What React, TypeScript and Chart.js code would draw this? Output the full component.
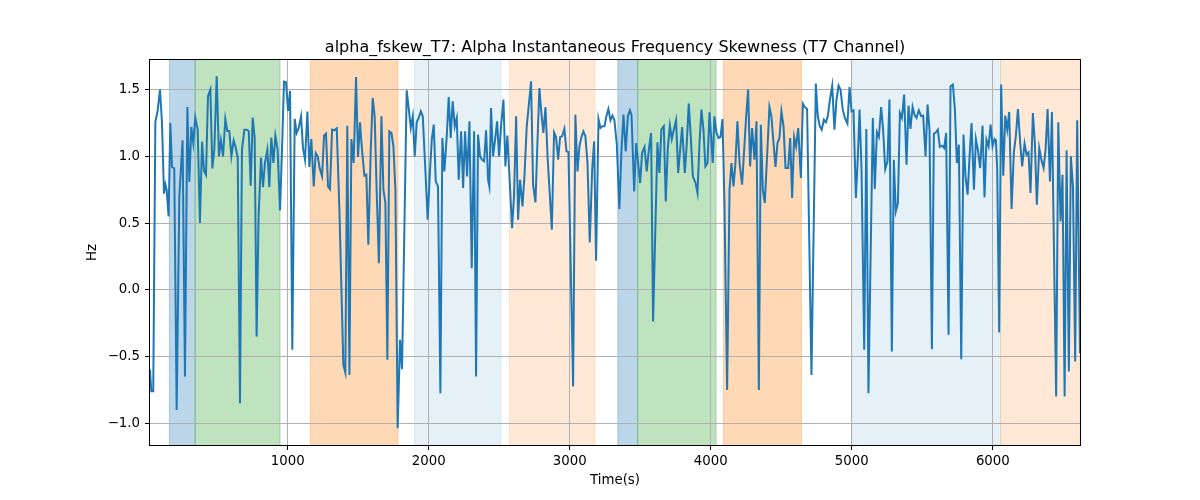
import React, { useEffect, useRef } from "react";
import { Chart, registerables } from "chart.js";

Chart.register(...registerables);

const TITLE = "alpha_fskew_T7: Alpha Instantaneous Frequency Skewness (T7 Channel)";
const X_LABEL = "Time(s)";
const Y_LABEL = "Hz";

const times: number[] = [
  24, 33, 47, 62, 78, 95, 109, 123, 133, 142, 156, 168, 180, 196, 213, 232, 255, 272, 289, 303,
  317, 331, 345, 362, 378, 393, 407, 421, 435, 452, 466, 480, 497, 513, 527, 542, 558, 572, 586, 601,
  617, 631, 646, 662, 676, 693, 709, 724, 738, 752, 766, 780, 794, 811, 825, 839, 856, 870,
  884, 899, 913, 929, 946, 960, 974, 988, 1003, 1017, 1033, 1050, 1064, 1078, 1095, 1109, 1123, 1140,
  1154, 1168, 1185, 1199, 1213, 1227, 1244, 1258, 1272, 1286, 1300, 1315, 1331, 1348, 1367, 1395, 1409,
  1423, 1438, 1452, 1468, 1485, 1499, 1513, 1527, 1544, 1558, 1572, 1589, 1603, 1617, 1631, 1647,
  1665, 1679, 1693, 1707, 1721, 1736, 1750, 1764, 1780, 1797, 1811, 1844, 1858, 1873, 1887, 1901, 1915,
  1929, 1944, 1958, 1974, 1993, 2007, 2022, 2036, 2050, 2066, 2083, 2097, 2111, 2128, 2142, 2156, 2170,
  2185, 2199, 2213, 2230, 2244, 2258, 2272, 2289, 2305, 2322, 2336, 2350, 2364, 2378, 2393, 2407, 2421,
  2430, 2442, 2456, 2471, 2485, 2499, 2513, 2530, 2544, 2558,
  2575, 2591, 2605, 2620, 2634, 2648, 2665, 2679, 2695, 2709, 2726, 2740, 2757, 2771, 2785, 2799, 2813,
  2828, 2844, 2858, 2873, 2889, 2903, 2918, 2932, 2946, 2962, 2977, 2991, 3024, 3040, 3055, 3069, 3083,
  3097, 3111, 3126, 3142, 3159, 3173, 3187, 3204, 3218, 3232, 3246, 3260, 3274, 3289, 3303, 3317, 3334,
  3352, 3367, 3381, 3397, 3412,
  3427, 3438, 3457, 3471, 3485, 3499, 3513, 3530, 3546, 3561, 3577, 3591, 3622, 3636, 3650, 3667, 3681,
  3695, 3710, 3724, 3738, 3754, 3769, 3783, 3797, 3816, 3830, 3844, 3858, 3873, 3892, 3906, 3920, 3934,
  3948, 3962, 3977, 3991, 4005, 4014, 4026, 4040, 4055, 4069, 4083, 4097, 4116, 4133, 4147, 4161, 4175,
  4189, 4204, 4222, 4237, 4251, 4265,
  4279, 4293, 4310, 4324, 4341, 4355, 4369, 4383, 4397, 4416, 4430, 4445, 4459, 4473, 4487, 4501, 4516,
  4530, 4549, 4563, 4577, 4591, 4605, 4620, 4639, 4653, 4667, 4683, 4714, 4745, 4759, 4773, 4787, 4802,
  4816, 4830, 4844, 4861, 4877, 4891, 4906, 4920, 4936, 4951, 4969, 4984, 4998, 5012, 5029, 5043, 5055,
  5069, 5088, 5103, 5118,
  5149, 5163, 5178, 5192, 5208, 5222, 5237, 5253, 5267, 5284, 5298, 5312, 5327, 5341, 5355, 5371, 5388,
  5402, 5416, 5431, 5445, 5459, 5475, 5492, 5506, 5523, 5537, 5551, 5568, 5582, 5596, 5610, 5624, 5641,
  5655, 5669, 5686, 5700, 5717, 5731, 5745, 5759, 5776, 5792, 5806, 5821, 5835, 5849, 5866, 5880, 5894,
  5910, 5927, 5941, 5955, 5970,
  5984, 5998, 6012, 6022, 6031, 6045, 6059, 6074, 6088, 6102, 6116, 6133, 6149, 6163, 6178, 6194, 6208,
  6225, 6239, 6253, 6267, 6284, 6298, 6312, 6329, 6343, 6360, 6374, 6388, 6405, 6419, 6449, 6464, 6480,
  6494, 6509, 6523, 6539, 6553, 6568, 6584, 6598, 6618,
];

const skew: number[] = [
  -0.6, -0.76, -0.76, 1.26, 1.34, 1.5, 1.25, 0.72, 0.79, 0.75, 0.55, 1.25, 0.92, 0.91, -0.9, 0.7, 1.12, -0.65, 1.37, 0.81,
  1.22, 1.1, 1.29, 1.2, 0.5, 1.11, 0.89, 0.86, 1.45, 1.5, 0.91, 1.05, 1.6, 1.0, 1.12, 1.0, 1.28, 1.19, 1.19, 1.0,
  1.12, 1.07, 0.99, -0.85, 1.05, 1.2, 1.2, 1.19, 0.78, 1.29, 1.14, -0.35, 0.55, 0.99, 0.77, 0.95, 1.05, 0.77,
  1.14, 0.95, 1.155, 1.05, 0.595, 1.05, 1.56, 1.555, 1.34, 1.49, -0.45, 1.28, 1.175, 1.21, 1.3, 1.06, 0.975, 1.335,
  0.92, 1.13, 0.775, 1.025, 1.0, 0.91, 0.85, 1.155, 1.17, 0.775, 0.755, 1.2, 1.195, 1.21, 0.6, -0.5625, -0.62,
  1.23, -0.6375, 1.13, 0.95, 1.595, 0.995, 1.255, 1.05, 0.855, 0.8625, 0.3375, 1.0375, 1.4375, 1.3, 0.75, 0.2,
  1.3, 0.75, 0.65, -0.525, 1.1875, 1.175, 1.075, 0.75, -1.0375, -0.375, -0.595, 1.495, 1.3625, 1.2125, 1.3, 1.0, 1.255,
  1.2875, 1.3375, 1.3, 0.95, 0.525, 0.85, 1.125, 1.2375, 0.8125, 0.775, -0.775, 1.1375, 0.8875, 1.15, 1.445, 1.1375, 1.4125,
  1.225, 1.2875, 0.825, 1.1875, 0.7625, 1.1875, 0.85, 1.2625, 0.1625, 1.1875, -0.65, 1.1625, 1.0, 0.975, 0.9625, 1.195, 0.825,
  0.775, 1.3625, 1.0, 1.125, 1.2625, 1.0, 1.225, 1.425, 0.925, 1.155,
  0.8, 0.4625, 0.7, 1.3, 0.525, 0.825, 0.625, 0.85, 1.225, 1.375, 1.5625, 0.7875, 0.655, 1.1, 1.5125, 1.325, 1.175,
  1.37, 0.975, 0.725, 0.45, 1.18, 1.145, 0.975, 1.145, 1.15, 1.2075, 1.0375, 1.0325, -0.725, 1.3125, 0.8875, 1.075, 1.145,
  1.1875, 1.15, 0.95, 0.355, 0.9, 1.1125, 0.2175, 1.28, 1.2125, 1.225, 1.225, 1.3, 1.355, 1.27, 1.305, 1.27, 1.0875,
  0.605, 1.05, 1.3125, 1.0375, 1.3,
  1.345, 1.31, 0.7375, 1.1, 0.95, 0.8, 1.025, 1.07, 0.8875, 1.05, 1.175, -0.2375, 1.105, 0.875, 1.2, 1.225, 0.6625,
  1.05, 1.23, 1.13, 1.2, 1.27, 0.875, 1.05, 1.22, 0.875, 1.1, 1.395, 1.15, 0.85, 0.8, 0.725, 1.1, 1.35,
  1.2, 0.925, 0.95, 1.33, 1.1, 0.95, 1.3, 1.18, 1.1375, 1.145, 1.28, 0.65, -0.75, 0.75, 0.95, 0.775, 0.95,
  1.2625, 0.95, 0.7875, 1.05, 1.3, 1.5,
  0.925, 1.2125, 0.975, 1.2625, -0.75, 1.2375, 0.75, 0.65, 0.95, 1.37, 1.3, 1.1, 0.92, 1.1, 1.1375, 1.3375, 1.225,
  0.9125, 0.9125, 1.1375, 0.6875, 1.145, 1.075, 1.2125, 0.8375, 1.395, 1.37, 1.355, -0.6375, 1.545, 1.3, 1.225, 1.2, 1.275,
  1.255, 1.3, 1.42, 1.53, 1.2, 1.42, 1.53, 1.5, 1.35, 1.2875, 1.245, 1.52, 1.3375, 1.345, 0.6875, 1.0, 1.35,
  0.9, -0.45, 1.205, -0.775,
  1.2875, 0.755, 1.18, 1.145, 1.37, 1.2, 0.905, 0.9625, 1.425, -0.4625, 0.975, 0.5875, 0.65, 1.325, 1.2875, 1.4625, 0.9375,
  1.38, 1.205, 1.37, 1.31, 1.2875, 1.345, 1.3, 1.305, 1.0, 1.3875, 1.2, -0.445, 1.17, 1.18, 1.2, 1.07, 1.08,
  1.0625, 1.175, -0.3375, 1.525, 1.5375, 1.35, 0.95, 1.0875, -0.52, 1.1625, 0.85, 0.7125, 1.0, 1.25, 0.75, 1.13, 1.05,
  0.9125, 1.23, 0.6925, 1.125, 1.075,
  1.2375, 1.075, 1.13, 1.12, 0.9, -0.32, 1.5375, 0.855, 1.305, 1.2, 1.3325, 0.605, 1.03, 1.15, 1.355, 1.1, 0.925,
  1.095, 1.0125, 1.03, 0.725, 1.325, 1.1, 0.6375, 1.0625, 0.98, 0.9125, 1.05, 1.355, 0.8125, 1.3325, -0.8, 1.255, 0.5125,
  0.8625, -0.8, 1.045, -0.6125, 1.0, 0.775, -0.5375, 1.27, -0.475,
];

// shaded time windows
const spanStarts: number[] = [162, 344, 1161, 1899, 2572, 3341, 3482, 4090, 5000, 6055];
const spanEnds: number[] = [344, 946, 1783, 2513, 3180, 3482, 4038, 4643, 6055, 6618];
const spanColors: string[] = [
  "rgba(31,119,180,0.3)",
  "rgba(44,160,44,0.3)",
  "rgba(255,127,14,0.3)",
  "rgba(31,119,180,0.11)",
  "rgba(255,127,14,0.17)",
  "rgba(31,119,180,0.3)",
  "rgba(44,160,44,0.3)",
  "rgba(255,127,14,0.3)",
  "rgba(31,119,180,0.11)",
  "rgba(255,127,14,0.17)",
];

const xTicks: number[] = [1000, 2000, 3000, 4000, 5000, 6000];
const yTicks: number[] = [-1.0, -0.5, 0.0, 0.5, 1.0, 1.5];
const X_MIN = 24;
const X_MAX = 6618;
const Y_MIN = -1.163;
const Y_MAX = 1.722;

const FONT = "'DejaVu Sans', 'Liberation Sans', sans-serif";

const decorPlugin = {
  id: "decor",
  beforeDraw(chart: any) {
    const { ctx, chartArea, scales } = chart;
    const xs = scales.x;
    ctx.save();
    ctx.beginPath();
    ctx.rect(chartArea.left, chartArea.top, chartArea.right - chartArea.left, chartArea.bottom - chartArea.top);
    ctx.clip();
    for (let i = 0; i < spanStarts.length; i++) {
      const a = xs.getPixelForValue(spanStarts[i]);
      const b = xs.getPixelForValue(spanEnds[i]);
      ctx.fillStyle = spanColors[i];
      ctx.fillRect(a, chartArea.top, b - a, chartArea.bottom - chartArea.top);
      ctx.strokeStyle = spanColors[i];
      ctx.lineWidth = 1;
      ctx.beginPath();
      ctx.moveTo(a, chartArea.top);
      ctx.lineTo(a, chartArea.bottom);
      ctx.moveTo(b, chartArea.top);
      ctx.lineTo(b, chartArea.bottom);
      ctx.stroke();
    }
    ctx.restore();
  },
  afterDraw(chart: any) {
    const { ctx, chartArea } = chart;
    const { left, right, top, bottom } = chartArea;
    ctx.save();
    ctx.strokeStyle = "#000";
    ctx.lineWidth = 1;
    ctx.strokeRect(Math.round(left) - 0.5, Math.round(top) - 0.5, Math.round(right - left) + 1, Math.round(bottom - top) + 1);
    ctx.fillStyle = "#000";
    ctx.textAlign = "center";
    ctx.font = `16px ${FONT}`;
    ctx.textBaseline = "alphabetic";
    ctx.fillText(TITLE, (left + right) / 2, top - 8);
    ctx.font = `13.33px ${FONT}`;
    ctx.textBaseline = "middle";
    ctx.fillText(X_LABEL, (left + right) / 2, 481);
    ctx.translate(93, (top + bottom) / 2);
    ctx.rotate(-Math.PI / 2);
    ctx.fillText(Y_LABEL, 0, 0);
    ctx.restore();
  },
};

export default function App() {
  const ref = useRef<HTMLCanvasElement | null>(null);
  useEffect(() => {
    if (!ref.current) return;
    const points = times.map((t, i) => ({ x: t, y: skew[i] }));
    const chart = new Chart(ref.current, {
      type: "line",
      data: {
        datasets: [
          {
            data: points,
            borderColor: "#1f77b4",
            borderWidth: 2,
            pointRadius: 0,
            tension: 0,
            fill: false,
          },
        ],
      },
      options: {
        animation: false,
        responsive: false,
        devicePixelRatio: 1,
        layout: { padding: { left: 0, right: 120, top: 60, bottom: 0 } },
        plugins: { legend: { display: false }, title: { display: false }, tooltip: { enabled: false } },
        scales: {
          x: {
            type: "linear",
            min: X_MIN,
            max: X_MAX,
            afterBuildTicks: (s: any) => {
              s.ticks = xTicks.map((v) => ({ value: v }));
            },
            afterFit: (s: any) => {
              s.height = 55;
            },
            grid: { color: "#b0b0b0", lineWidth: 1, drawTicks: true, tickLength: 5, tickColor: "#000", tickWidth: 1 },
            border: { display: false },
            ticks: {
              color: "#000",
              font: { family: FONT, size: 13.33 },
              padding: 4,
              maxRotation: 0,
              callback: (v: any) => String(v),
            },
          },
          y: {
            type: "linear",
            min: Y_MIN,
            max: Y_MAX,
            afterBuildTicks: (s: any) => {
              s.ticks = yTicks.map((v) => ({ value: v }));
            },
            afterFit: (s: any) => {
              s.width = 150;
            },
            grid: { color: "#b0b0b0", lineWidth: 1, drawTicks: true, tickLength: 5, tickColor: "#000", tickWidth: 1 },
            border: { display: false },
            ticks: {
              color: "#000",
              font: { family: FONT, size: 13.33 },
              padding: 5,
              callback: (v: any) => Number(v).toFixed(1).replace("-", "\u2212"),
            },
          },
        },
      },
      plugins: [decorPlugin],
    });
    return () => chart.destroy();
  }, []);
  return (
    <div style={{ position: "fixed", left: 0, top: 0, width: 1200, height: 500, background: "#fff" }}>
      <canvas ref={ref} width={1200} height={500} style={{ width: 1200, height: 500 }} />
    </div>
  );
}
